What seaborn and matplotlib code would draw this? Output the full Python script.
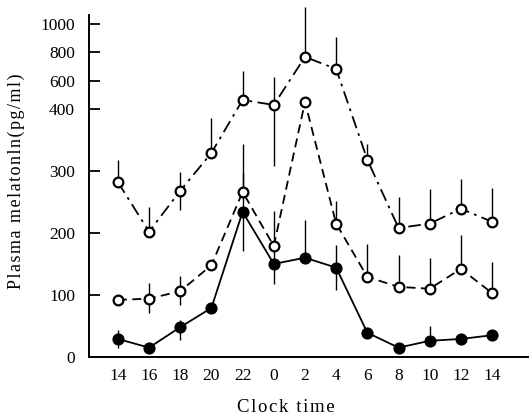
import matplotlib
matplotlib.use('Agg')
import matplotlib.pyplot as plt
import seaborn as sns
import numpy as np

# clock time labels (two-hour steps, 14:00 to 14:00 next day)
times = ['14', '16', '18', '20', '22', '0', '2', '4', '6', '8', '10', '12', '14']

# filled circles, solid line
solid = [29, 15, 48, 79, 234, 150, 160, 144, 39, 15, 26, 29, 35]
solid_lo = [15, 15, 27, 79, 171, 118, 160, 108, 39, 15, 26, 29, 35]
solid_hi = [44, 15, 60, 79, 297, 182, 221, 180, 39, 15, 50, 29, 35]

# open circles, dashed line
dashed = [92, 94, 106, 148, 266, 179, 449, 215, 129, 113, 110, 142, 103]
dashed_lo = [92, 71, 84, 148, 266, 179, 449, 215, 129, 113, 110, 142, 103]
dashed_hi = [92, 119, 131, 148, 344, 235, 449, 252, 182, 165, 160, 197, 153]

# open circles, dash-dot line
dashdot = [282, 202, 268, 329, 463, 428, 767, 682, 318, 208, 215, 239, 218]
dashdot_lo = [282, 202, 237, 329, 463, 308, 767, 682, 318, 208, 215, 239, 218]
dashdot_hi = [318, 242, 298, 385, 668, 626, 1120, 908, 344, 258, 271, 287, 273]

yticks = [0, 100, 200, 300, 400, 600, 800, 1000]

# axis is linear up to 400, compressed above
K = 0.2285


def fwd(v):
    v = np.asarray(v, dtype=float)
    return np.where(v > 400, 400 + (v - 400) * K, v)


def inv(p):
    p = np.asarray(p, dtype=float)
    return np.where(p > 400, 400 + (p - 400) / K, p)


def spaced(s):
    # letter-spaced text like the printed figure
    return '\u200a'.join(s)


if __name__ == '__main__':
    sns.set_style('ticks')
    plt.rcParams['font.family'] = ['Liberation Serif', 'DejaVu Serif']
    plt.rcParams.update({'text.color': 'black', 'axes.labelcolor': 'black',
                         'xtick.color': 'black', 'ytick.color': 'black'})

    fig = plt.figure(figsize=(5.29, 4.16), dpi=100)
    ax = fig.add_axes([0.168, 0.142, 0.830, 0.822])
    ax.set_yscale('function', functions=(fwd, inv))

    x = np.arange(len(times))

    for lo, hi in [(solid_lo, solid_hi), (dashed_lo, dashed_hi), (dashdot_lo, dashdot_hi)]:
        ax.vlines(x, lo, hi, color='black', lw=1.0, zorder=1, clip_on=False)

    sns.lineplot(x=x, y=dashdot, ax=ax, color='black', linestyle=(0, (7, 3, 1.5, 3)), lw=1.3,
                 marker='o', markersize=7, markerfacecolor='white', markeredgecolor='black',
                 markeredgewidth=1.6, zorder=3, clip_on=False)
    sns.lineplot(x=x, y=dashed, ax=ax, color='black', linestyle=(0, (5, 3)), lw=1.3,
                 marker='o', markersize=7, markerfacecolor='white', markeredgecolor='black',
                 markeredgewidth=1.6, zorder=3, clip_on=False)
    sns.lineplot(x=x, y=solid, ax=ax, color='black', linestyle='-', lw=1.3,
                 marker='o', markersize=8, markerfacecolor='black', markeredgecolor='black',
                 zorder=4, clip_on=False)

    ax.set_xlim(-0.93, 13.15)
    ax.set_ylim(0, 1063)
    ax.set_yticks(yticks)
    ax.set_yticklabels([str(t) for t in yticks])
    ax.minorticks_off()
    ax.set_xticks(x)
    ax.set_xticklabels(times)

    ax.tick_params(axis='y', direction='in', length=8, width=1.3, pad=10, labelsize=12.5)
    ax.tick_params(axis='x', length=0, pad=8, labelsize=12.5)

    sns.despine(ax=ax)
    for s in ['left', 'bottom']:
        ax.spines[s].set_linewidth(1.4)
        ax.spines[s].set_color('black')

    ax.set_xlabel(spaced('Clock time'), fontsize=13.5)
    ax.xaxis.set_label_coords(0.449, -0.123)
    ax.set_ylabel(spaced('Plasma melatonln(pg/ml)'), fontsize=13)
    ax.yaxis.set_label_coords(-0.146, 0.515)

    plt.savefig('out.png', dpi=100)
